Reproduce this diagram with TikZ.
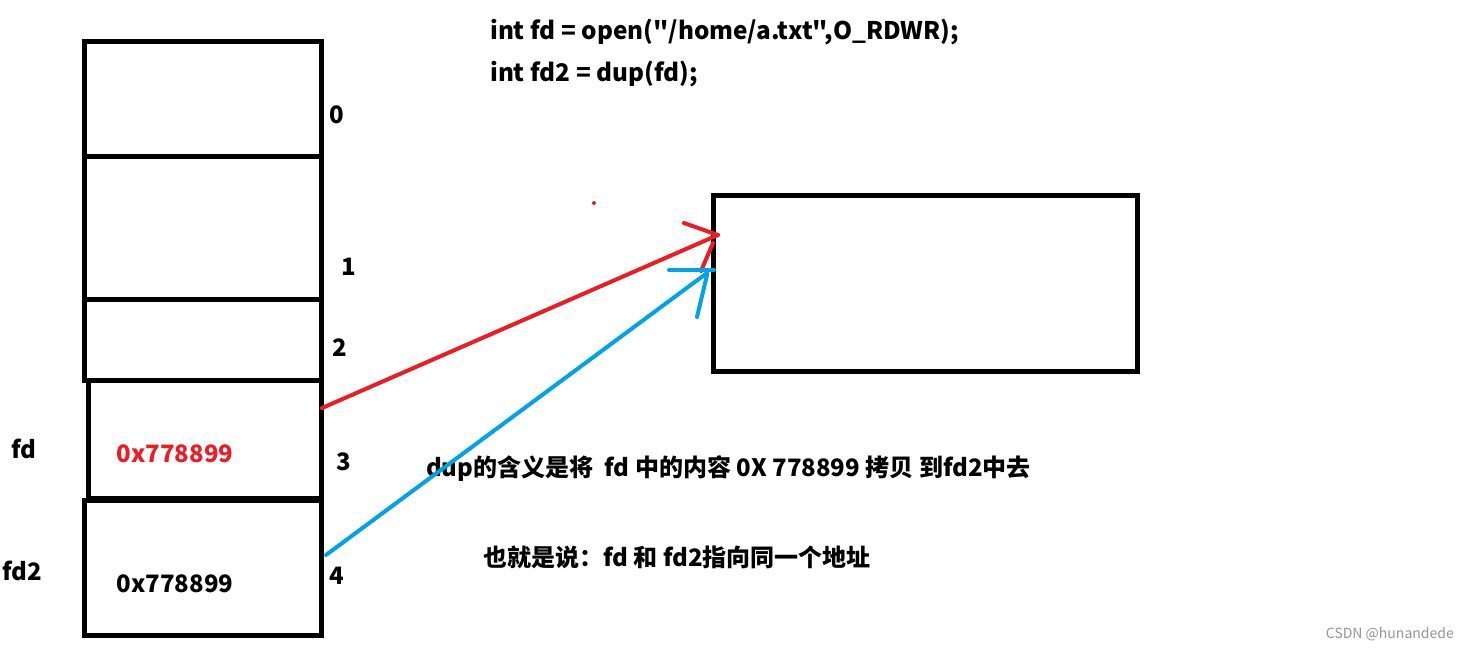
\documentclass[tikz,border=0pt]{standalone}
\usepackage{fontspec}
\setmainfont{Noto Sans CJK SC}
\newfontfamily\codefont{Noto Sans CJK SC}
\definecolor{pred}{RGB}{237,28,36}
\definecolor{pblue}{RGB}{0,162,232}
\definecolor{wm}{RGB}{150,150,150}
\begin{document}
\begin{tikzpicture}[x=1pt,y=-1pt,
  cell/.style={draw=black,line width=5pt,rectangle,inner sep=0pt},
  lbl/.style={font=\fontsize{24}{28}\selectfont\bfseries,inner sep=0pt},
  code/.style={font=\codefont\fontsize{24.3}{28}\selectfont\bfseries,inner sep=0pt,anchor=west},
  redline/.style={draw=pred,line width=4pt,line cap=round},
  blueline/.style={draw=pblue,line width=4pt,line cap=round}]
\useasboundingbox (0,0) rectangle (1468,649);
\fill[white] (0,0) rectangle (1468,649);
% table cells
\node[cell,minimum width=237pt,minimum height=115pt] (c0) at (202.5,98.5) {};
\node[cell,minimum width=237pt,minimum height=143pt] (c1) at (202.5,227.5) {};
\node[cell,minimum width=237pt,minimum height=81pt] (c2) at (202.5,339.5) {};
\node[cell,minimum width=233pt,minimum height=118pt] (c3) at (204.5,439) {};
\node[cell,minimum width=237pt,minimum height=135pt] (c4) at (202.5,567.5) {};
% right box
\node[cell,minimum width=424pt,minimum height=176pt] (file) at (925,283) {};
% index labels
\node[lbl] (n0) at (337,115) {0};
\node[lbl] (n1) at (349,267) {1};
\node[lbl] (n2) at (340,348) {2};
\node[lbl] (n3) at (344,462) {3};
\node[lbl] (n4) at (337,576) {4};
\node[lbl] (fd) at (24,449) {fd};
\node[lbl] (fd2) at (22,571) {fd2};
\node[lbl,text=pred] (v3) at (175,454) {0x778899};
\node[lbl] (v4) at (175,584) {0x778899};
% code
\node[code] (code1) at (490,32) {int fd = open("/home/a.txt",O\_RDWR);};
\node[code] (code2) at (490,74) {int fd2 = dup(fd);};
\node[lbl,anchor=west] (exp1) at (426,469) {dup的含义是将\ \ fd 中的内容 0X 778899 拷贝 到fd2中去};
\node[lbl,anchor=west] (exp2) at (483,557) {也就是说：fd 和 fd2指向同一个地址};
\node[font=\fontsize{14}{16}\selectfont,text=wm,anchor=east,inner sep=0pt] (wmk) at (1454,634) {CSDN @hunandede};
% arrows
\coordinate (rs) at (322,408);
\coordinate (re) at (718,235);
\coordinate (rh1) at (684,223);
\coordinate (rh2) at (701,271);
\draw[redline] (rs) -- (re);
\draw[redline] (rh1) -- (re);
\draw[redline] (rh2) -- (713,243);
\fill[pred] (594,203) circle (2pt);
\coordinate (bs) at (326,555);
\coordinate (be) at (707,273);
\draw[blueline] (bs) -- (be);
\draw[blueline] (669,270) -- (714,270);
\draw[blueline] (697,317) -- (707,275);
\end{tikzpicture}
\end{document}
